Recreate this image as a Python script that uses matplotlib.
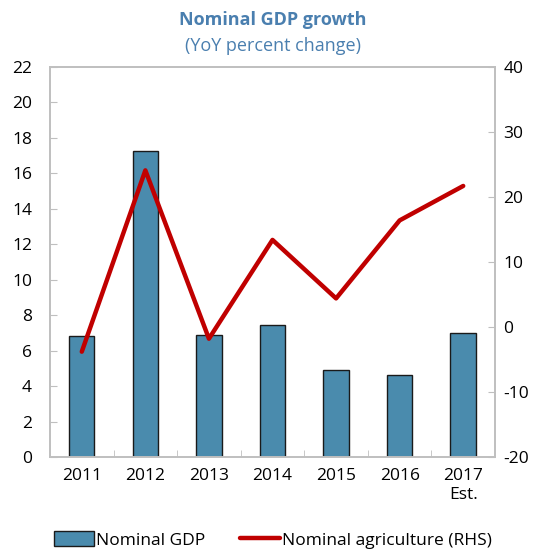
import matplotlib
matplotlib.use("Agg")
import matplotlib.pyplot as plt
import numpy as np
from matplotlib.ticker import FixedLocator

years = ["2011", "2012", "2013", "2014", "2015", "2016", "2017\nEst."]
gdp = [6.8, 17.25, 6.9, 7.45, 4.9, 4.6, 7.0]
agri = [-3.8, 24.1, -1.8, 13.4, 4.4, 16.4, 21.7]

plt.rcParams['font.family'] = ['Open Sans', 'DejaVu Sans']
plt.rcParams['axes.unicode_minus'] = False

fig = plt.figure(figsize=(5.46, 5.52), dpi=100)
ax = fig.add_axes([50/546, 1-457/552, 445/546, 390/552])
x = np.arange(len(years))
bar_color = "#4A8BAD"
line_color = "#C00000"
grey = "#BFBFBF"

ax.bar(x, gdp, width=0.4, color=bar_color, edgecolor="#1a1a1a", linewidth=1.0, zorder=2,
       label="Nominal GDP")
ax.set_xlim(-0.5, len(years)-0.5)
ax.set_ylim(0, 22)
ax.set_yticks(np.arange(0, 23, 2))
ax.set_xticks(x)
ax.set_xticklabels(years, fontsize=12.5)
ax.xaxis.set_minor_locator(FixedLocator(np.arange(0.5, len(years)-0.5, 1)))
ax.tick_params(axis='x', which='major', length=0, pad=8)
ax.tick_params(axis='x', which='minor', direction='in', length=5, color=grey)
ax.tick_params(axis='y', direction='in', length=5, color=grey, labelsize=12.5, pad=13)
for s in ax.spines.values():
    s.set_color(grey)
    s.set_linewidth(1.2)

ax2 = ax.twinx()
ax2.plot(x, agri, color=line_color, linewidth=3.2, zorder=3, solid_capstyle='round',
         label="Nominal agriculture (RHS)")
ax2.set_ylim(-20, 40)
ax2.set_yticks(np.arange(-20, 41, 10))
ax2.tick_params(axis='y', direction='in', length=5, color=grey, labelsize=12.5, pad=6)
for s in ax2.spines.values():
    s.set_color(grey)
    s.set_linewidth(1.2)

fig.text(0.5, 1-20/552, "Nominal GDP growth", ha='center', va='center', fontsize=13,
         fontweight='bold', color="#4A7FAF")
fig.text(0.5, 1-46/552, "(YoY percent change)", ha='center', va='center', fontsize=13,
         color="#4A7FAF")

h1, l1 = ax.get_legend_handles_labels()
h2, l2 = ax2.get_legend_handles_labels()
fig.legend(h1 + h2, l1 + l2, loc='center', bbox_to_anchor=(0.5, 1-540/552), ncol=2,
           frameon=False, fontsize=12.5, handlelength=2.3, handletextpad=0.1,
           columnspacing=2.0, handleheight=0.9)

fig.savefig("out.png", dpi=100)
